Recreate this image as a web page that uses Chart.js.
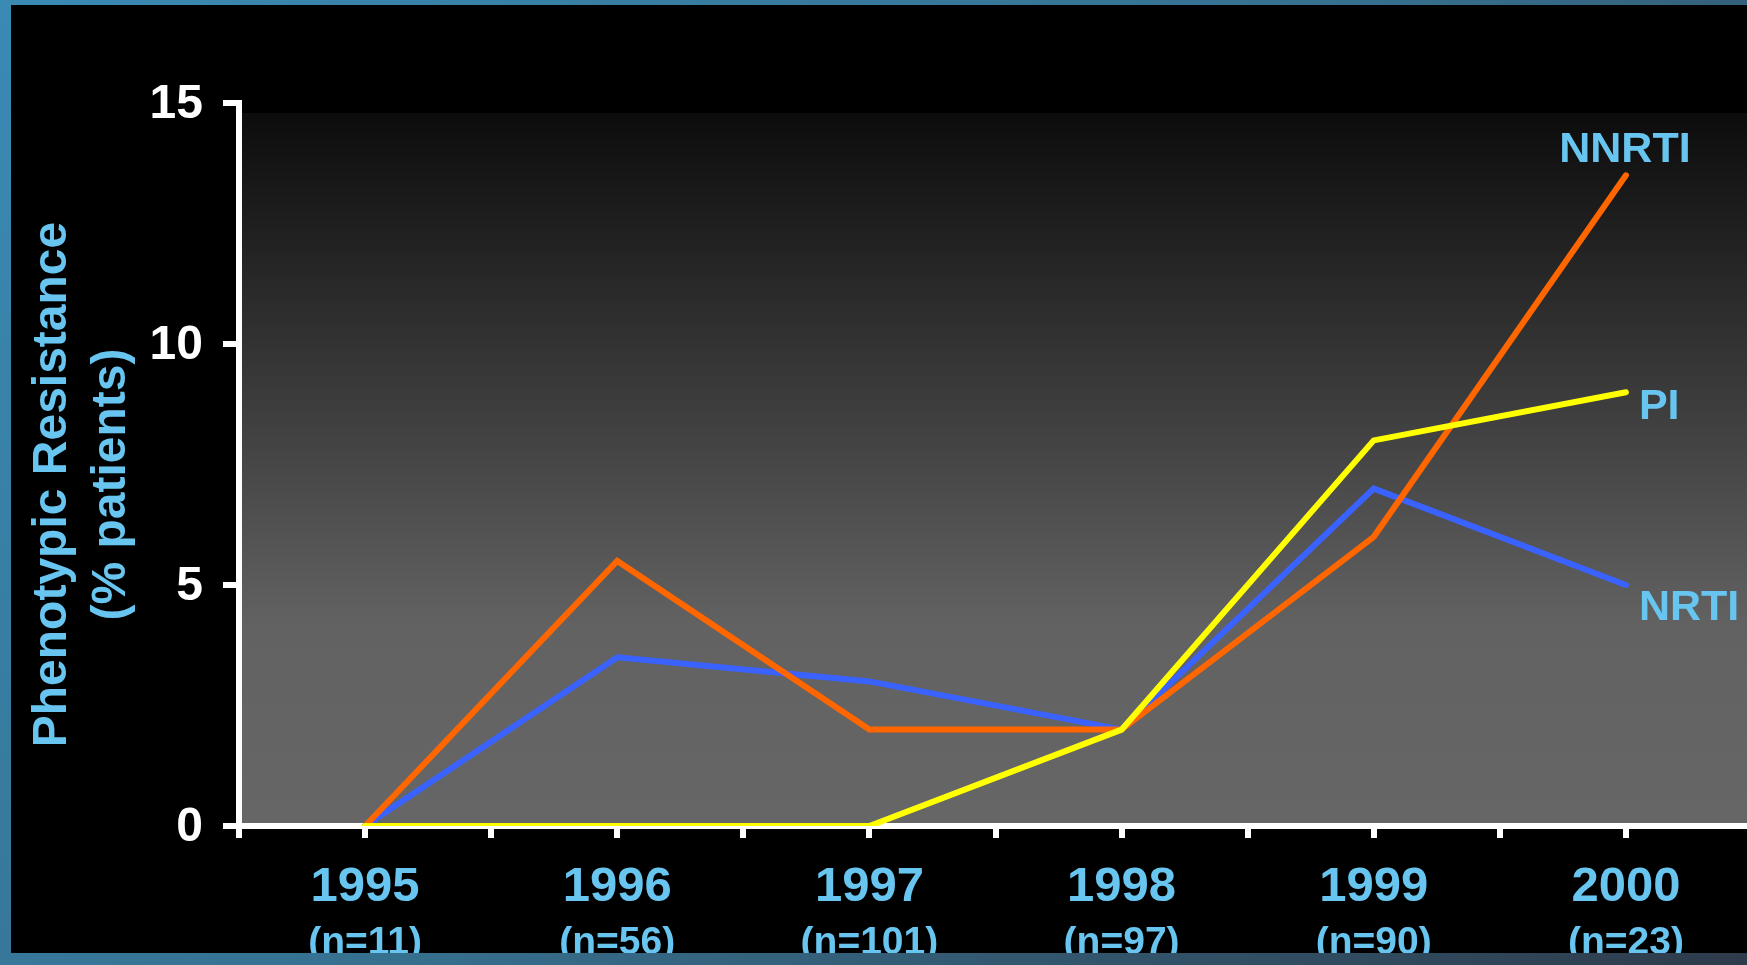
<!DOCTYPE html>
<html><head><meta charset="utf-8">
<script src="https://cdn.jsdelivr.net/npm/chart.js@4"></script>
<style>
html,body{margin:0;padding:0;width:1747px;height:965px;overflow:hidden;}
body{position:relative;background:linear-gradient(135deg,#3a8ab4 0%,#36708f 50%,#2e3b4b 100%);}
#panel{position:absolute;left:11px;top:5px;right:0;height:948px;background:#000;}
#wrap{position:absolute;left:0;top:0;width:1772px;height:953px;}
</style></head>
<body><div id="panel"></div><div id="wrap"><canvas id="c"></canvas></div>
<script>
const years = ['1995','1996','1997','1998','1999','2000'];
const sampleSizes = ['(n=11)','(n=56)','(n=101)','(n=97)','(n=90)','(n=23)'];
const seriesNames = ['NNRTI','PI','NRTI'];
const nnrtiValues = [0, 5.5, 2, 2, 6, 13.5];
const piValues = [0, 0, 0, 2, 8, 9];
const nrtiValues = [0, 3.5, 3, 2, 7, 5];
const yTickValues = [0, 5, 10, 15];
const yTitle = ['Phenotypic Resistance   ', '(% patients)   '];

const BLUE = '#68c5ef';
const FAMILY = '"Liberation Sans", Arial, sans-serif';
Chart.defaults.font.family = FAMILY;

const pts = arr => arr.map((v, i) => ({x: i, y: v}));
const catIndex = v => { const r = Math.round(v); return Math.abs(v - r) < 1e-6 && r >= 0 && r < years.length ? r : null; };
const halfTicks = s => { const t = []; for (let i = -1; i <= 2 * years.length - 1; i++) t.push({value: i / 2}); s.ticks = t; };

const bgPlugin = {
  id: 'plotBg',
  beforeDraw(chart) {
    const {ctx, chartArea, scales} = chart;
    const top = scales.y.getPixelForValue(15) + 10;
    const bottom = chartArea.bottom;
    const left = chartArea.left + 2;
    const g = ctx.createLinearGradient(0, top, 0, bottom);
    g.addColorStop(0, '#0c0c0c');
    g.addColorStop(0.72, '#626262');
    g.addColorStop(1, '#666666');
    ctx.save();
    ctx.fillStyle = g;
    ctx.fillRect(left, top, chart.width - left, bottom - top);
    ctx.restore();
  }
};

const endLabelOffsets = {
  NNRTI: {dx: -1, dy: -13, align: 'center'},
  PI: {dx: 13, dy: 27, align: 'left'},
  NRTI: {dx: 13, dy: 35, align: 'left'}
};
const endLabelPlugin = {
  id: 'endLabels',
  afterDatasetsDraw(chart) {
    const {ctx} = chart;
    ctx.save();
    ctx.font = 'bold 43px ' + FAMILY;
    ctx.fillStyle = BLUE;
    ctx.textBaseline = 'alphabetic';
    chart.data.datasets.forEach((ds, i) => {
      const meta = chart.getDatasetMeta(i);
      const p = meta.data[meta.data.length - 1];
      const o = endLabelOffsets[ds.label];
      ctx.textAlign = o.align;
      ctx.fillText(ds.label, p.x + o.dx, p.y + o.dy);
    });
    ctx.restore();
  }
};

const lineStyle = {borderWidth: 6, pointRadius: 0, pointHoverRadius: 0, borderCapStyle: 'round', borderJoinStyle: 'miter', tension: 0, fill: false};

new Chart(document.getElementById('c'), {
  type: 'line',
  data: {
    datasets: [
      Object.assign({label: seriesNames[1], data: pts(piValues), borderColor: '#ffff00'}, lineStyle),
      Object.assign({label: seriesNames[0], data: pts(nnrtiValues), borderColor: '#ff6600'}, lineStyle),
      Object.assign({label: seriesNames[2], data: pts(nrtiValues), borderColor: '#3a62ff'}, lineStyle)
    ]
  },
  options: {
    responsive: true,
    maintainAspectRatio: false,
    animation: false,
    events: [],
    layout: {padding: {top: 103, right: 0, bottom: 0, left: 0}},
    plugins: {legend: {display: false}, tooltip: {enabled: false}},
    scales: {
      x: {
        type: 'linear', position: 'bottom', min: -0.5, max: 5.5, weight: 0,
        afterBuildTicks: halfTicks,
        afterFit: s => { s.height = 86; },
        grid: {drawOnChartArea: false, drawTicks: true, tickLength: 12, color: '#ffffff', lineWidth: 6},
        border: {display: true, color: '#ffffff', width: 6},
        ticks: {autoSkip: false, maxRotation: 0, minRotation: 0, padding: 20, color: BLUE,
          font: {size: 49, weight: 'bold'},
          callback: v => { const k = catIndex(v); return k === null ? '' : years[k]; }}
      },
      x2: {
        type: 'linear', position: 'bottom', min: -0.5, max: 5.5, weight: 1,
        afterBuildTicks: halfTicks,
        afterFit: s => { s.height = 41; },
        grid: {display: false},
        border: {display: false},
        ticks: {autoSkip: false, maxRotation: 0, minRotation: 0, padding: 0, color: BLUE,
          font: {size: 39, weight: 'bold'},
          callback: v => { const k = catIndex(v); return k === null ? '' : sampleSizes[k]; }}
      },
      y: {
        type: 'linear', position: 'left', min: 0, max: 15,
        afterBuildTicks: s => { s.ticks = yTickValues.map(v => ({value: v})); },
        afterFit: s => { s.width = 239; },
        grid: {drawOnChartArea: false, drawTicks: true, tickLength: 16, color: '#ffffff', lineWidth: 6},
        border: {display: true, color: '#ffffff', width: 6},
        ticks: {padding: 20, labelOffset: 2, color: '#ffffff', font: {size: 48, weight: 'bold'}, callback: v => String(v)},
        title: {display: true, text: yTitle, color: BLUE,
          font: {size: 48, weight: 'bold', lineHeight: 1.23}, padding: {top: 23.5, bottom: 0}}
      }
    }
  },
  plugins: [bgPlugin, endLabelPlugin]
});
</script>
</body></html>
